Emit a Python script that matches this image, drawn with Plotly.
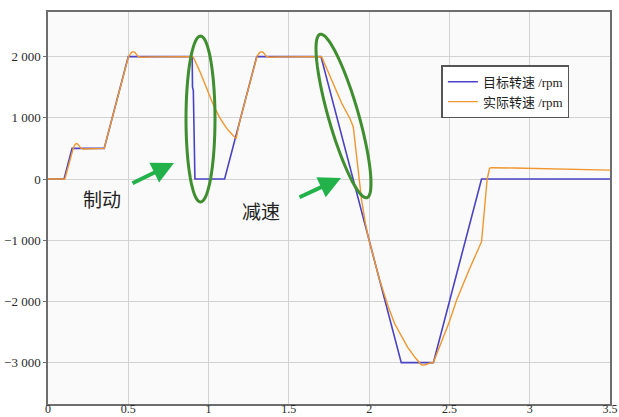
import math
import plotly.graph_objects as go

# Target speed profile (s, rpm)
target_t = [0.00, 0.10, 0.15, 0.35, 0.50, 0.898, 0.900, 0.905, 0.915, 1.10, 1.30, 1.70, 2.20, 2.40, 2.70, 3.50]
target_v = [0, 0, 500, 500, 2000, 2000, 1500, 1450, 0, 0, 2000, 2000, -3000, -3000, 0, 0]

# Measured speed (s, rpm)
actual_t = [0.00, 0.105, 0.155, 0.165, 0.175, 0.185, 0.195, 0.205, 0.22, 0.25, 0.35,
            0.50, 0.51, 0.52, 0.53, 0.54, 0.55, 0.56, 0.58, 0.65, 0.90,
            0.905, 0.946, 0.99, 1.03, 1.07, 1.113, 1.15, 1.172, 1.19,
            1.30, 1.31, 1.32, 1.33, 1.34, 1.35, 1.36, 1.38, 1.45, 1.704,
            1.77, 1.829, 1.88, 1.901, 1.92, 1.938, 1.953, 1.975, 1.994,
            2.06, 2.119, 2.16, 2.19, 2.24, 2.29, 2.327, 2.35, 2.38, 2.40,
            2.44, 2.50, 2.545, 2.62, 2.70, 2.72, 2.735, 2.75, 2.76,
            2.90, 3.10, 3.30, 3.50]
actual_v = [0, 0, 480, 550, 580, 572, 537, 505, 490, 495, 500,
            1990, 2040, 2070, 2080, 2070, 2040, 2005, 1990, 1995, 2000,
            1990, 1755, 1470, 1209, 1000, 828, 720, 660, 900,
            1990, 2040, 2070, 2080, 2070, 2040, 2005, 1990, 1995, 2000,
            1600, 1237, 990, 855, 420, 0, -343, -700, -943,
            -1600, -2087, -2370, -2521, -2750, -2930, -3039, -3035, -3005, -3000,
            -2740, -2330, -1977, -1500, -1024, -452, 0, 175, 185,
            180, 170, 160, 145]

x_tickvals = [0, 0.5, 1, 1.5, 2, 2.5, 3, 3.5]
x_ticktext = ["0", "0.5", "1", "1.5", "2", "2.5", "3", "3.5"]
y_tickvals = [-3000, -2000, -1000, 0, 1000, 2000]
y_ticktext = ["\u22123 000", "\u22122 000", "\u22121 000", "0", "1 000", "2 000"]

X_RANGE = [0, 3.5]
Y_RANGE = [-3676, 2729]

W, H = 619, 417
M = dict(l=48, r=9, t=12, b=13)
PW = W - M["l"] - M["r"]
PH = H - M["t"] - M["b"]


def to_data(px, py):
    """Convert page pixel position to data coordinates."""
    x = X_RANGE[0] + (px - M["l"]) / PW * (X_RANGE[1] - X_RANGE[0])
    y = Y_RANGE[1] - (py - M["t"]) / PH * (Y_RANGE[1] - Y_RANGE[0])
    return x, y


def ellipse_path(cx, cy, a, b, angle_deg, n=72):
    """SVG path of a rotated ellipse given in page pixels, expressed in data coords."""
    th = math.radians(angle_deg)
    pts = []
    for i in range(n + 1):
        p = 2 * math.pi * i / n
        ex, ey = a * math.cos(p), b * math.sin(p)
        px = cx + ex * math.cos(th) - ey * math.sin(th)
        py = cy + ex * math.sin(th) + ey * math.cos(th)
        pts.append(to_data(px, py))
    d = "M " + " L ".join(f"{x:.5f},{y:.2f}" for x, y in pts) + " Z"
    return d


SERIF = "Liberation Serif, Noto Sans CJK SC, serif"

fig = go.Figure()
fig.add_trace(go.Scatter(x=target_t, y=target_v, mode="lines", name="目标转速 /rpm",
                         line=dict(color="#4a43c4", width=1.6)))
fig.add_trace(go.Scatter(x=actual_t, y=actual_v, mode="lines", name="实际转速 /rpm",
                         line=dict(color="#f0962e", width=1.4)))

ring = dict(color="#3f8e2f", width=3)
fig.add_shape(type="path", path=ellipse_path(200.5, 119, 83, 14.5, 90), line=ring,
              xref="x", yref="y", layer="above")
fig.add_shape(type="path", path=ellipse_path(343.5, 116, 85, 15, 74), line=ring,
              xref="x", yref="y", layer="above")

# Arrows pointing at the two highlighted regions
for tip, tail in [((174, 163), (131, 184)), ((341, 178), (298, 198))]:
    tx, ty = to_data(*tip)
    fig.add_annotation(x=tx, y=ty, ax=tail[0] - tip[0], ay=tail[1] - tip[1],
                       xref="x", yref="y", axref="pixel", ayref="pixel",
                       showarrow=True, arrowhead=2, arrowsize=1.1, arrowwidth=4,
                       arrowcolor="#23b24a", text="")

for label, (px, py) in [("制动", (102, 198)), ("减速", (261, 210))]:
    lx, ly = to_data(px, py)
    fig.add_annotation(x=lx, y=ly, xref="x", yref="y", text=label, showarrow=False,
                       font=dict(family="Noto Sans CJK SC", size=19, color="#222222"))

axis_common = dict(showline=True, linecolor="#6e6e6e", linewidth=1.5, mirror=True,
                   showgrid=True, gridcolor="#d2d2d2", gridwidth=1, zeroline=False,
                   tickcolor="#6e6e6e", automargin=False)

fig.update_xaxes(range=X_RANGE, tickvals=x_tickvals, ticktext=x_ticktext,
                 ticks="", ticklabelstandoff=-7,
                 tickfont=dict(family=SERIF, size=12, color="#2a2a2a"), **axis_common)
fig.update_yaxes(range=Y_RANGE, tickvals=y_tickvals, ticktext=y_ticktext,
                 ticks="outside", ticklen=3,
                 tickfont=dict(family=SERIF, size=13, color="#2a2a2a"), **axis_common)

fig.update_layout(
    width=W, height=H, margin=M,
    paper_bgcolor="white", plot_bgcolor="#fafafa",
    showlegend=True,
    legend=dict(x=0.70, y=0.864, xanchor="left", yanchor="top",
                bgcolor="white", bordercolor="#555555", borderwidth=1.5,
                font=dict(family=SERIF, size=13, color="#222222"),
                tracegroupgap=0, itemwidth=30),
)

fig.write_html("out.html")
